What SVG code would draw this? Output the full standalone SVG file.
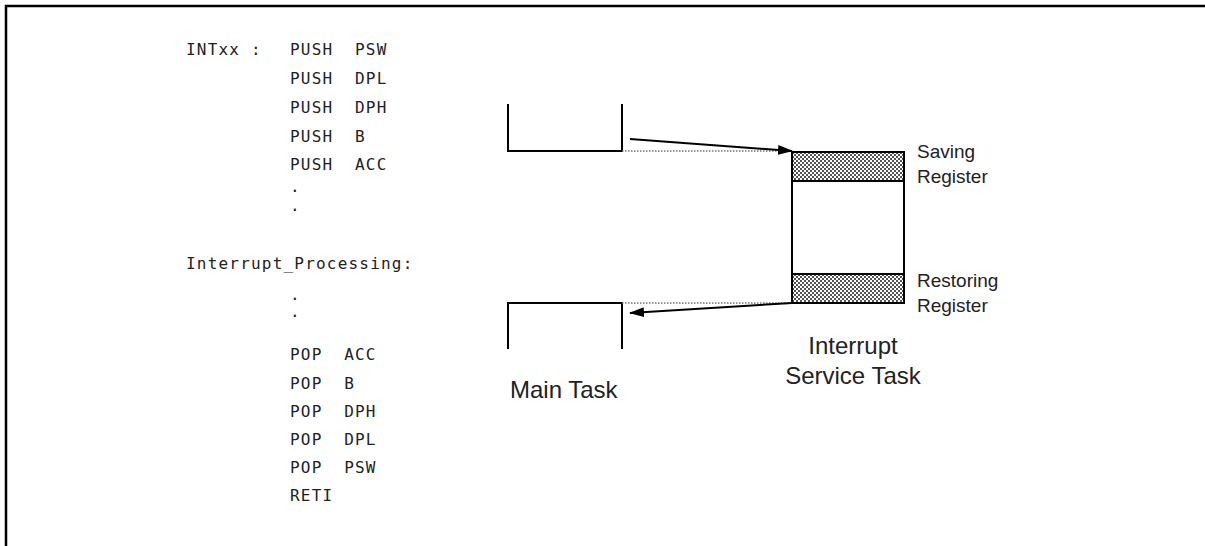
<svg xmlns="http://www.w3.org/2000/svg" width="1205" height="546" viewBox="0 0 1205 546">
<defs>
<style>
.code{font-family:"DejaVu Sans Mono","Liberation Mono",monospace;font-size:16px;letter-spacing:1.2px;fill:#222;white-space:pre}
.lbl{font-family:"Liberation Sans",Arial,sans-serif;fill:#222}
.big{font-size:24px}
.sm{font-size:19px}
.ln{fill:none;stroke:#000;stroke-width:2}
.dot{fill:none;stroke:#777;stroke-width:1.5;stroke-dasharray:1.5,1.5}
.arr{fill:none;stroke:#000;stroke-width:2}
</style>
<pattern id="chk" width="4" height="4" patternUnits="userSpaceOnUse">
<rect width="4" height="4" fill="#fff"/>
<rect width="2" height="2" fill="#555"/>
<rect x="2" y="2" width="2" height="2" fill="#555"/>
</pattern>
<marker id="ah" markerWidth="15" markerHeight="10" refX="14" refY="5" orient="auto" markerUnits="userSpaceOnUse">
<path d="M0,0 L15,5 L0,10 Z" fill="#000"/>
</marker>
</defs>
<rect width="1205" height="546" fill="#fff"/>
<path d="M6,546 V6 H1205" fill="none" stroke="#000" stroke-width="2.5"/>

<g id="code" xml:space="preserve">
<text class="code" x="186" y="55">INTxx :</text>
<text class="code" x="290" y="55">PUSH  PSW</text>
<text class="code" x="290" y="84">PUSH  DPL</text>
<text class="code" x="290" y="113">PUSH  DPH</text>
<text class="code" x="290" y="142">PUSH  B</text>
<text class="code" x="290" y="170">PUSH  ACC</text>
<text class="code" x="290" y="192">.</text>
<text class="code" x="290" y="211">.</text>
<text class="code" x="186" y="269">Interrupt_Processing:</text>
<text class="code" x="290" y="300">.</text>
<text class="code" x="290" y="317">.</text>
<text class="code" x="290" y="360">POP  ACC</text>
<text class="code" x="290" y="389">POP  B</text>
<text class="code" x="290" y="417">POP  DPH</text>
<text class="code" x="290" y="445">POP  DPL</text>
<text class="code" x="290" y="473">POP  PSW</text>
<text class="code" x="290" y="501">RETI</text>
</g>

<g id="main-task-top">
<path class="ln" d="M508,104 V151 H622 V104"/>
</g>
<g id="main-task-bottom">
<path class="ln" d="M508,349 V303 H622 V349"/>
<text class="lbl big" x="510" y="398">Main Task</text>
</g>

<g id="isr">
<rect x="792" y="152" width="112" height="29" fill="url(#chk)"/>
<rect x="792" y="274" width="112" height="29" fill="url(#chk)"/>
<rect class="ln" x="792" y="152" width="112" height="151"/>
<line class="ln" x1="792" y1="181" x2="904" y2="181"/>
<line class="ln" x1="792" y1="274" x2="904" y2="274"/>
<text class="lbl big" x="853" y="354" text-anchor="middle">Interrupt</text>
<text class="lbl big" x="853" y="384" text-anchor="middle">Service Task</text>
</g>

<g id="saving-label">
<text class="lbl sm" x="917" y="158">Saving</text>
<text class="lbl sm" x="917" y="183">Register</text>
</g>
<g id="restoring-label">
<text class="lbl sm" x="917" y="287">Restoring</text>
<text class="lbl sm" x="917" y="312">Register</text>
</g>

<g id="connectors">
<line class="dot" x1="622" y1="151" x2="792" y2="151"/>
<line class="dot" x1="622" y1="303" x2="792" y2="303"/>
<line class="arr" x1="630" y1="139" x2="792" y2="151" marker-end="url(#ah)"/>
<line class="arr" x1="792" y1="303" x2="630" y2="313" marker-end="url(#ah)"/>
</g>
</svg>
